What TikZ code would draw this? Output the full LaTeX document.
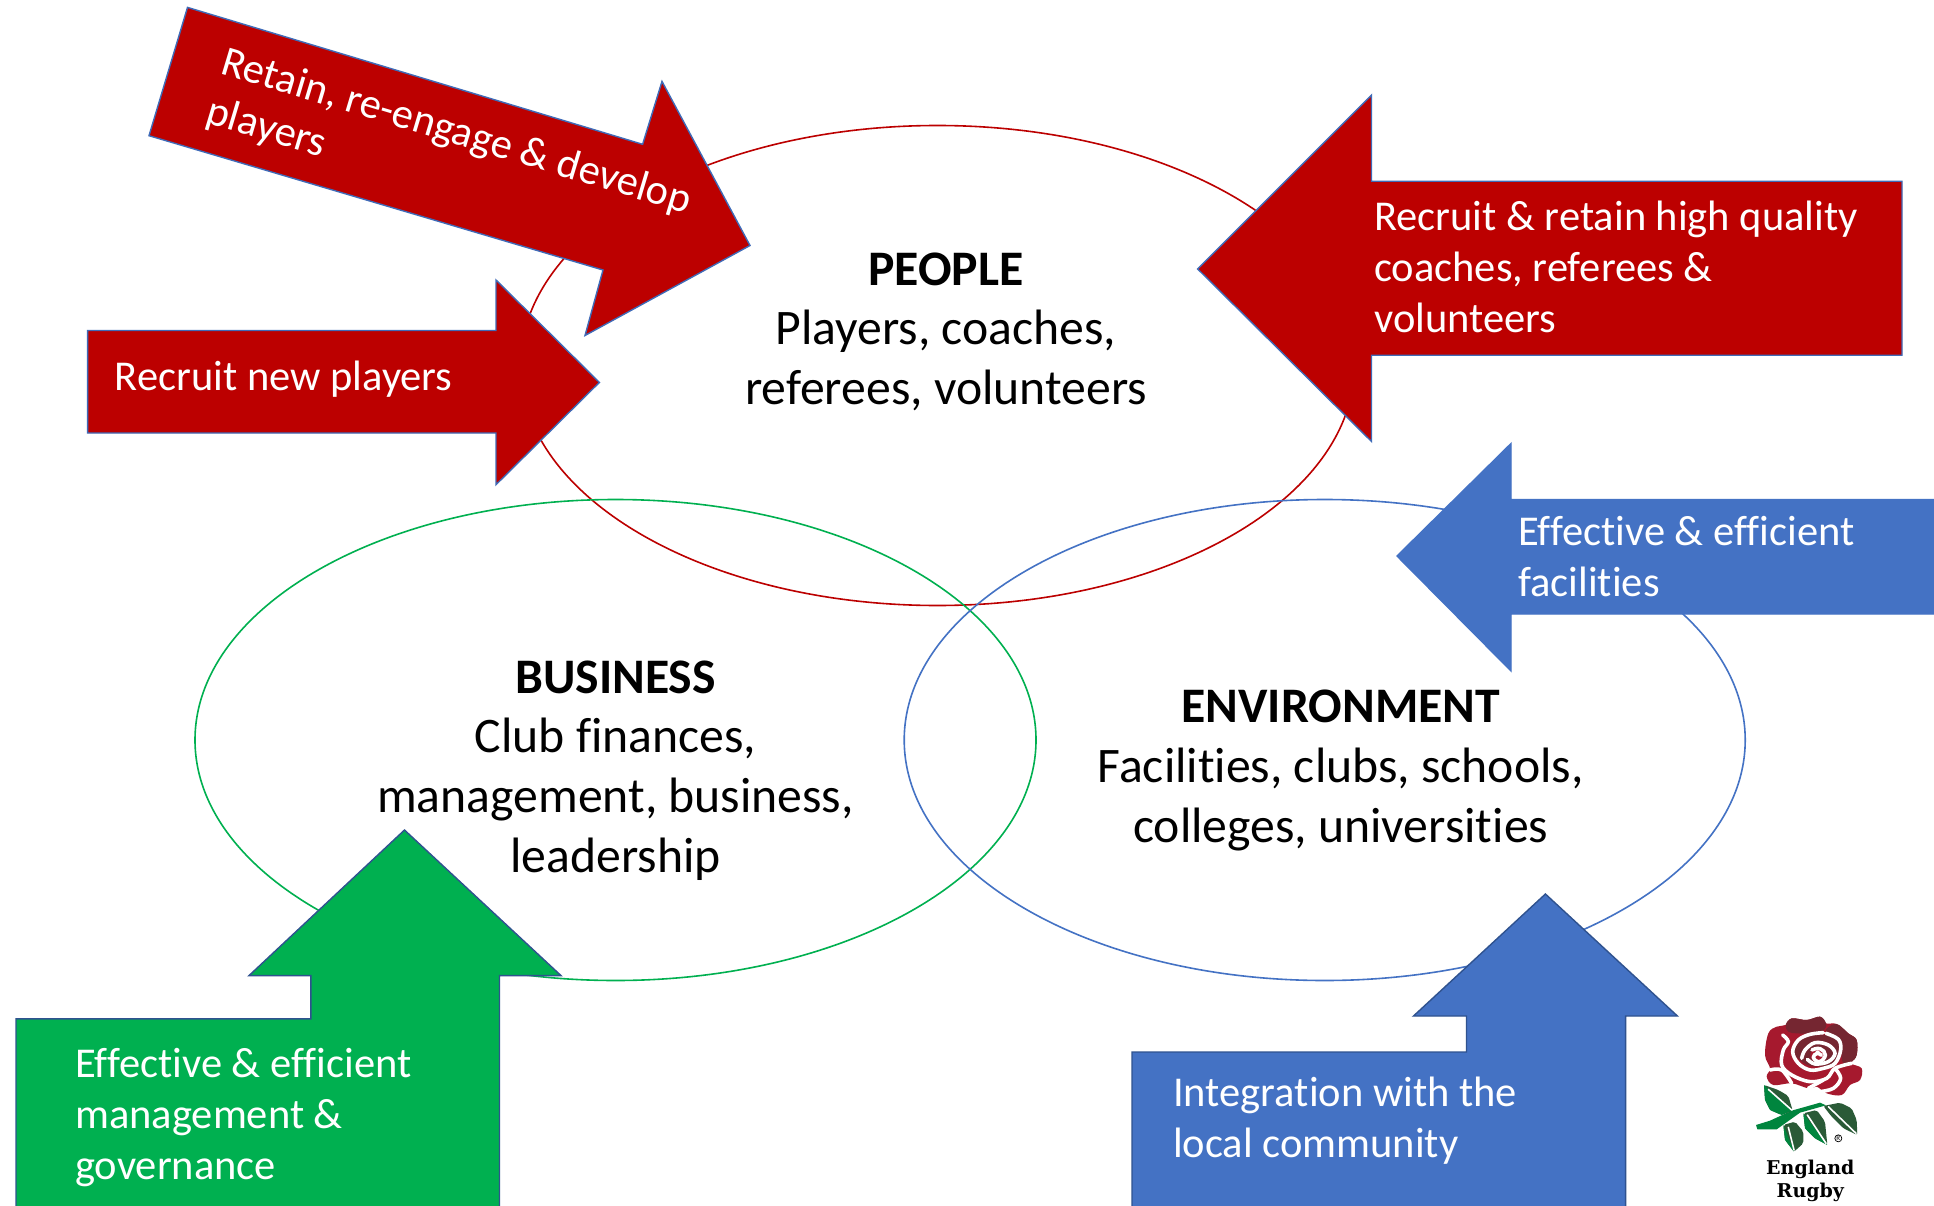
\documentclass[tikz,border=0pt]{standalone}
\usepackage{fontspec}
\usetikzlibrary{shapes.geometric}
\setmainfont[Ligatures=NoCommon]{Carlito}
\newfontfamily\logofont{DejaVu Serif}
\definecolor{arrowred}{HTML}{BC0000}
\definecolor{officeblue}{HTML}{4472C4}
\definecolor{officegreen}{HTML}{00B050}
\definecolor{edgeblue}{HTML}{3F6BB8}
\definecolor{edgedark}{HTML}{2F528F}
\definecolor{rosered}{HTML}{A6192E}
\definecolor{rosedark}{HTML}{752631}
\definecolor{leafdark}{HTML}{2A5A37}
\definecolor{leaflight}{HTML}{00853E}
\tikzset{
  ring/.style={line width=1.6pt},
  redarrow/.style={fill=arrowred,draw=edgeblue,line width=1.4pt,line join=miter},
  bluearrow/.style={fill=officeblue,draw=edgedark,line width=1.4pt,line join=miter},
  greenarrow/.style={fill=officegreen,draw=edgedark,line width=1.4pt,line join=miter},
  bigtext/.style={inner sep=0pt,align=center,font=\fontsize{49.7}{59.6}\selectfont},
  armtext/.style={inner sep=0pt,align=left,anchor=west,text=white,font=\fontsize{42.5}{51}\selectfont},
  petalline/.style={draw=white,line width=3.6pt,line cap=round,line join=round},
  veinline/.style={draw=white,line width=1.6pt,line cap=round},
}
\begin{document}
\begin{tikzpicture}[x=1pt,y=-1pt]
\useasboundingbox (0,0) rectangle (1934,1206);
\fill[white] (0,0) rectangle (1934,1206);
% rings
\node[draw=arrowred,ring,ellipse,minimum width=834pt,minimum height=480pt,inner sep=0pt] (peoplering) at (937.4,365.5) {};
\node[draw=officegreen,ring,ellipse,minimum width=841pt,minimum height=481pt,inner sep=0pt] (businessring) at (615.5,740) {};
\node[draw=officeblue,ring,ellipse,minimum width=841pt,minimum height=481pt,inner sep=0pt] (environmentring) at (1324.7,740) {};
% arrows
\draw[redarrow] (187.5,7.4) -- (642.6,144.3) -- (662,81.4) -- (750,245.5) -- (585,335.5) -- (603,270) -- (149,135.7) -- cycle;
\draw[redarrow] (87.6,330.5) -- (496,330.5) -- (496,280) -- (599.4,382.4) -- (496,484.7) -- (496,433) -- (87.6,433) -- cycle;
\draw[redarrow] (1197.6,268.9) -- (1371.5,95) -- (1371.5,181.3) -- (1902,181.3) -- (1902,355.2) -- (1371.5,355.2) -- (1371.5,441.5) -- cycle;
\draw[bluearrow,draw=officeblue] (1397,556) -- (1511,443.5) -- (1511,499.5) -- (1936,499.5) -- (1936,614) -- (1511,614) -- (1511,671) -- cycle;
\draw[greenarrow] (404.5,830) -- (561,975.6) -- (499.5,975.6) -- (499.5,1208) -- (16,1208) -- (16,1018.8) -- (310.8,1018.8) -- (310.8,975.6) -- (249,975.6) -- cycle;
\draw[bluearrow] (1545.4,894) -- (1677.4,1016) -- (1625.6,1016) -- (1625.6,1208) -- (1132,1208) -- (1132,1052) -- (1466.5,1052) -- (1466.5,1016) -- (1413.5,1016) -- cycle;
% ring labels
\node[bigtext] (people) at (946,331.5) {\textbf{PEOPLE}\\Players, coaches,\\referees, volunteers};
\node[bigtext] (business) at (615.5,770.5) {\textbf{BUSINESS}\\Club finances,\\management, business,\\leadership};
\node[bigtext] (environment) at (1340.7,770.5) {\textbf{ENVIRONMENT}\\Facilities, clubs, schools,\\colleges, universities};
% arrow labels
\node[armtext,rotate=-16.7] (retain) at (215,87) {Retain, re-engage \& develop\\players};
\node[armtext] (recruit) at (114.7,379) {Recruit new players};
\node[armtext] (coaches) at (1374,267) {Recruit \& retain high quality\\coaches, referees \&\\volunteers};
\node[armtext] (facilities) at (1518,557) {Effective \& efficient\\facilities};
\node[armtext] (management) at (75,1117.5) {Effective \& efficient\\management \&\\governance};
\node[armtext] (community) at (1173,1121) {Integration with the\\local community};
% logo
\begin{scope}[shift={(1720,1000)},x=0.3333pt,y=-0.3333pt]
  % leaves and stem
  \fill[leaflight] (108,375) -- (150,362) -- (215,332) -- (300,308) -- (318,316) -- (240,338) -- (170,388) -- (112,388) -- cycle;
  \fill[leafdark,rounded corners=2pt] (132,255) -- (175,270) -- (205,288) -- (218,332) -- (185,345) -- (150,330) -- (135,300) -- cycle;
  \fill[leafdark,rounded corners=2pt] (310,318) -- (360,308) -- (395,325) -- (410,360) -- (412,405) -- (370,385) -- (335,350) -- cycle;
  \fill[leafdark,rounded corners=2pt] (250,340) -- (290,330) -- (315,365) -- (322,435) -- (285,415) -- (255,385) -- cycle;
  \fill[leafdark,rounded corners=2pt] (190,375) -- (225,365) -- (250,395) -- (250,430) -- (222,455) -- (195,420) -- cycle;
  \fill[leaflight] (132,255) -- (215,332) -- (185,345) -- (150,330) -- (135,300) -- cycle;
  \fill[leaflight] (190,375) -- (222,455) -- (195,420) -- cycle;
  \fill[leaflight] (250,340) -- (322,435) -- (285,415) -- (255,385) -- cycle;
  \draw[veinline] (145,268) -- (215,330);
  \draw[veinline] (325,320) -- (408,400);
  \draw[veinline] (262,345) -- (318,430);
  \draw[veinline] (205,382) -- (222,450);
  % rose body
  \fill[rosered] plot[smooth cycle,tension=0.6] coordinates {(197,75) (215,55) (260,60) (300,50) (318,70) (350,72) (385,100) (410,120) (410,165) (395,190) (425,205) (420,240) (390,255) (365,285) (320,280) (290,260) (265,265) (215,250) (160,255) (140,230) (150,205) (135,165) (145,100) (170,80)};
  \fill[rosedark] plot[smooth cycle,tension=0.6] coordinates {(197,75) (215,55) (260,60) (300,50) (318,70) (312,90) (275,100) (230,100) (205,95)};
  \fill[rosedark] plot[smooth cycle,tension=0.6] coordinates {(318,88) (350,72) (385,100) (410,120) (410,165) (395,185) (370,190) (362,150) (355,115) (330,105)};
  \fill[rosedark] plot[smooth cycle,tension=0.6] coordinates {(222,135) (270,105) (320,105) (355,118) (360,150) (340,190) (300,200) (262,195) (240,180) (225,165)};
  % petal outlines
  \draw[petalline] plot[smooth,tension=0.6] coordinates {(188,105) (205,125) (190,150) (185,195) (215,225) (270,245) (320,235) (345,205) (395,190)};
  \draw[petalline] plot[smooth,tension=0.6] coordinates {(310,98) (270,103) (235,120) (218,155) (235,190) (270,210) (310,205) (345,190) (362,150) (355,118) (318,100)};
  \draw[petalline] plot[smooth,tension=0.6] coordinates {(150,210) (185,210) (215,250)};
  \draw[petalline] plot[smooth,tension=0.6] coordinates {(265,265) (310,240)};
  \draw[petalline] plot[smooth,tension=0.6] coordinates {(345,205) (362,235) (340,265) (300,275)};
  \draw[petalline] plot[smooth,tension=0.6] coordinates {(245,175) (255,150) (285,128) (325,135) (345,160) (325,185) (285,192) (262,178)};
  \fill[rosered] (295,165) circle [x radius=24,y radius=22];
  \draw[petalline] plot[smooth,tension=0.8] coordinates {(276,150) (300,146) (316,165) (298,185) (280,172) (292,160) (304,166)};
  \fill[white] (293,158) circle [radius=7];
  % registered mark
  \node[draw=black,circle,line width=0.7pt,inner sep=0.4pt,font=\fontsize{7}{8}\selectfont] (registered) at (355,415) {R};
  % wordmark
  \node[inner sep=0pt,align=center,font=\logofont\bfseries\fontsize{19}{22.5}\selectfont] (logotext) at (271,543) {England\\Rugby};
\end{scope}
\end{tikzpicture}
\end{document}
